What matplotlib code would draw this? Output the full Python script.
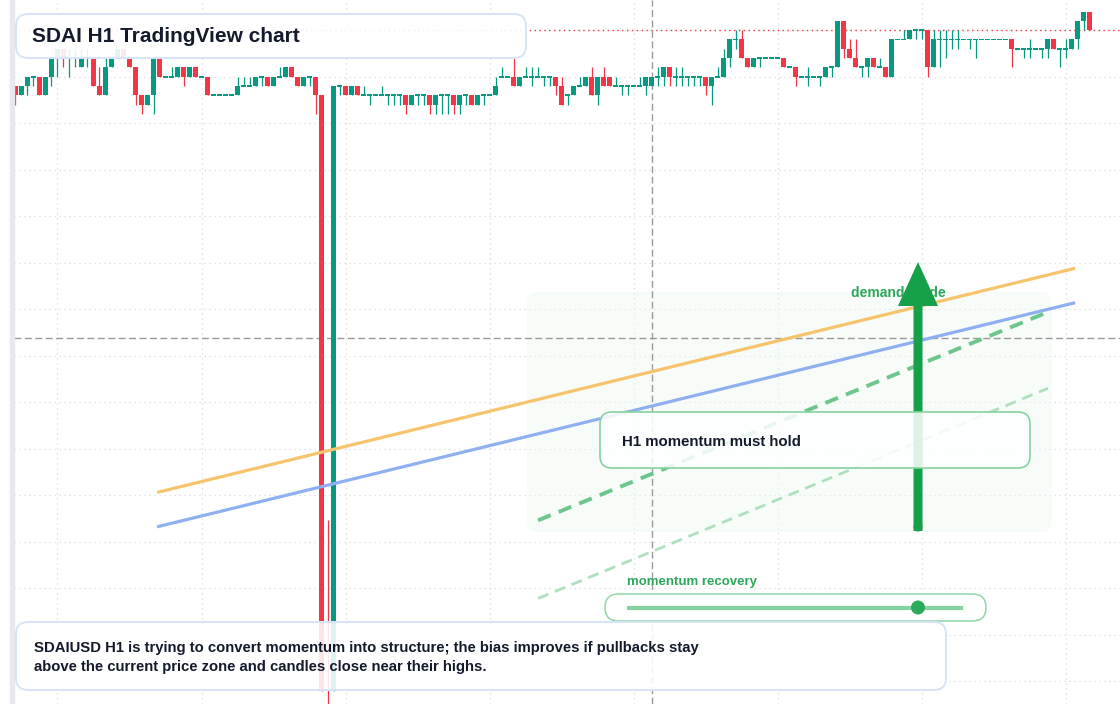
import matplotlib
matplotlib.use("Agg")
import matplotlib.pyplot as plt
from matplotlib.patches import FancyBboxPatch, FancyArrow, Circle
import numpy as np

plt.rcParams['font.family'] = ['Liberation Sans', 'DejaVu Sans']

# ---- SDAIUSD H1 candles, prices in ticks relative to a grid line ----
opens = [
    -1, -2, -1, 0, 0, -2, 0, 2, 3, 2,
    2, 1, 2, 2, -1, -2, 1, 2, 3, 2,
    1, -2, -3, -2, 2, 0, 0, 0, 1, 0,
    1, 0, 0, -2, -2, -2, -2, -2, -1, -1,
    -1, 0, 0, -1, 0, 0, 1, 0, -1, 0,
    0, -2, -70, -66, -1, -1, -2, -1, -2, -2,
    -2, -2, -2, -2, -2, -2, -3, -2, -2, -2,
    -3, -2, -2, -2, -3, -2, -2, -3, -2, -2,
    -2, 0, 0, 0, -1, 0, 0, 0, 0, 0,
    0, -1, -2, -2, -1, -1, 0, -2, 0, 0,
    -1, -1, -1, -1, -1, -1, -1, 0, 0, 1,
    0, 0, 0, 0, 0, 0, -1, 0, 0, 2,
    4, 4, 2, 1, 2, 2, 2, 2, 2, 1,
    1, 0, 0, 0, 0, 0, 1, 1, 6, 3,
    2, 1, 1, 2, 1, 1, 0, 4, 4, 4,
    5, 5, 5, 1, 4, 4, 4, 4, 4, 4,
    4, 4, 4, 4, 4, 4, 4, 3, 3, 3,
    3, 3, 3, 4, 3, 3, 3, 4, 6, 7,
]
highs = [
    -1, -1, 0, 0, 0, 0, 2, 3, 3, 3,
    3, 3, 3, 2, 1, 2, 2, 3, 3, 2,
    1, -2, -2, 2, 2, 0, 1, 1, 1, 1,
    1, 0, 0, -2, -2, -2, -2, 0, 0, 0,
    0, 0, 0, 0, 1, 1, 1, 0, 0, 0,
    0, -2, -47.7, -1, -1, -1, -1, -1, -1, -2,
    -2, -1, -2, -2, -2, -2, -2, -2, -2, -2,
    -2, -2, -2, -2, -2, -2, -2, -2, -2, -2,
    0, 1, 0, 2, 0, 1, 1, 1, 0, 0,
    0, 0, -2, -1, 0, 0, 1, 0, 1, 0,
    0, -1, -1, -1, 0, 0, 0, 1, 1, 1,
    1, 1, 0, 0, 0, 0, 0, 1, 3, 4,
    5, 5, 2, 2, 2, 2, 2, 2, 2, 1,
    1, 0, 1, 0, 0, 1, 1, 6, 6, 4,
    4, 1, 2, 2, 2, 1, 4, 4, 5, 5,
    5, 5, 5, 5, 5, 5, 5, 5, 4, 4,
    4, 4, 4, 4, 4, 4, 4, 3, 3, 4,
    3, 3, 4, 4, 3, 4, 4, 6, 7, 7,
]
lows = [
    -3, -2, -2, -1, -2, -2, -1, 0, 1, 0,
    1, 1, 1, -1, -2, -2, 1, 2, 2, 1,
    -3, -4, -3, -4, 0, 0, 0, 0, -1, 0,
    0, 0, -2, -2, -2, -2, -2, -2, -1, -1,
    -1, -1, -1, -1, 0, 0, 0, -1, -1, -1,
    -4, -66, -76, -66, -2, -2, -2, -2, -2, -3,
    -2, -2, -3, -3, -3, -4, -3, -3, -3, -4,
    -4, -4, -4, -4, -4, -3, -3, -3, -3, -2,
    -2, 0, 0, -1, -1, 0, -1, 0, -1, -1,
    -2, -3, -3, -2, -1, -1, -2, -3, -1, -1,
    -1, -2, -2, -1, -1, -2, -1, -1, -1, -1,
    -1, -1, -1, -1, -1, -2, -3, 0, 0, 1,
    3, 2, 1, 1, 1, 2, 2, 2, 1, 1,
    -1, 0, -1, 0, -1, 0, 0, 1, 2, 2,
    1, 0, 0, 1, 1, 0, 0, 4, 4, 4,
    4, 4, 0, 1, 1, 2, 3, 3, 4, 3,
    2, 4, 4, 4, 4, 4, 1, 3, 2, 2,
    3, 2, 2, 3, 1, 2, 3, 3, 5, 5,
]
closes = [
    -2, -1, 0, 0, -2, 0, 2, 3, 2, 2,
    2, 2, 2, -1, -2, 1, 2, 3, 2, 1,
    -2, -3, -2, 2, 0, 0, 0, 1, 0, 1,
    0, 0, -2, -2, -2, -2, -2, -1, -1, -1,
    0, 0, -1, 0, 0, 1, 0, -1, 0, 0,
    -2, -66, -74, -1, -1, -2, -1, -2, -2, -2,
    -2, -2, -2, -2, -2, -3, -2, -2, -2, -3,
    -2, -2, -2, -3, -2, -2, -3, -2, -2, -2,
    -1, 0, 0, -1, 0, 0, 0, 0, 0, 0,
    -1, -3, -2, -1, -1, 0, -2, 0, -1, -1,
    -1, -1, -1, -1, -1, 0, 0, 0, 1, 0,
    0, 0, 0, 0, 0, -1, 0, 0, 2, 4,
    4, 2, 1, 2, 2, 2, 2, 2, 1, 1,
    0, 0, 0, 0, 0, 1, 1, 6, 3, 2,
    1, 1, 2, 1, 1, 0, 4, 4, 4, 5,
    5, 5, 1, 4, 4, 4, 4, 4, 4, 4,
    4, 4, 4, 4, 4, 4, 3, 3, 3, 3,
    3, 3, 4, 3, 3, 3, 4, 6, 7, 5,
]

# trend guides: (candle index, price) at both ends
orange_guide = [(23.6, -44.7), (176.6, -20.6)]
blue_guide = [(23.6, -48.4), (176.6, -24.3)]
green_guide = [(87.1, -47.7), (172.1, -25.3)]
light_guide = [(87.1, -56.1), (172.1, -33.5)]
crosshair_idx = 106
crosshair_price = -28.1

title = "SDAI H1 TradingView chart"
note = ("SDAIUSD H1 is trying to convert momentum into structure; the bias improves if pullbacks stay\n"
        "above the current price zone and candles close near their highs.")
hold_label = "H1 momentum must hold"
guide_label = "demand guide"
recovery_label = "momentum recovery"

UP = '#089981'
DOWN = '#f23645'

fig = plt.figure(figsize=(11.2, 7.04), dpi=100)
ax = fig.add_axes([0, 0, 1, 1])
ax.set_xlim(-2.583, 184.08)
ax.set_ylim(-67.45, 8.247)
ax.axis('off')

# overlay in pixel coordinates for annotation boxes
ov = fig.add_axes([0, 0, 1, 1])
ov.set_xlim(0, 1120)
ov.set_ylim(704, 0)
ov.axis('off')
ov.patch.set_alpha(0)

x0_idx = (14 - 15.5) / 6

# grid
grid_kw = dict(color='#d8dbe0', lw=0.9, ls=(0, (1, 3)), zorder=0)
for gi in range(7, 184, 24):
    ax.axvline(gi, **grid_kw)
for gl in range(5, -70, -5):
    ax.plot([x0_idx, 184.08], [gl, gl], **grid_kw)

# crosshair
ax.axvline(crosshair_idx, color='#9a9a9a', lw=1, ls=(0, (5, 2.5)), zorder=1)
ax.plot([x0_idx, 184.08], [crosshair_price, crosshair_price], color='#9a9a9a',
        lw=1, ls=(0, (5, 2.5)), zorder=1)

# candles
o = np.array(opens, float)
h = np.array(highs, float)
l = np.array(lows, float)
c = np.array(closes, float)
idx = np.arange(len(o))
cols = np.where(c >= o, UP, DOWN)
ax.vlines(idx, l, h, colors=cols, lw=0.9, zorder=3)
body_lo = np.minimum(o, c)
body_h = np.abs(c - o)
doji = body_h == 0
body_lo = np.where(doji, o - 0.1, body_lo)
body_h = np.where(doji, 0.2, body_h)
ax.bar(idx, body_h, bottom=body_lo, width=0.82, color=cols, linewidth=0, zorder=3)

# last price line
last_col = UP if c[-1] >= o[-1] else DOWN
ax.plot([x0_idx, 184.08], [c[-1], c[-1]], color=last_col, lw=1, ls=(0, (1, 2.5)), zorder=2)

# guide lines
for pts, col, lw, ls in [(orange_guide, '#f6c46c', 2.3, '-'),
                         (blue_guide, '#8fb0f0', 2.3, '-'),
                         (green_guide, '#6cc68d', 2.8, (0, (3.5, 2.2))),
                         (light_guide, '#aee0bf', 2.0, (0, (4, 2.5)))]:
    xs, ys = zip(*pts)
    ax.plot(xs, ys, color=col, lw=lw, ls=ls, zorder=4, solid_capstyle='butt')

# demand zone
zone = FancyBboxPatch((527, 292), 525, 240, boxstyle="round,pad=0,rounding_size=10",
                      fc='#eef9f1', ec='none', alpha=0.38, transform=ov.transData, zorder=0.5)
ax.add_patch(zone)

# left border strip
ov.axvspan(10, 14, color='#e8e9ec', zorder=1)

# title box
ov.add_patch(FancyBboxPatch((16, 14), 510, 44, boxstyle="round,pad=0,rounding_size=12",
                            fc=(1, 1, 1, 0.9), ec='#d6e4f8', lw=1.4, zorder=5))
ov.text(32, 36.5, title, fontsize=15, fontweight='bold', color='#131a2b',
        ha='left', va='center', zorder=6)

# demand guide + arrow
ov.text(851, 293, guide_label, fontsize=10, fontweight='bold', color='#2ea65b',
        ha='left', va='center', zorder=2)
ov.add_patch(FancyArrow(918, 531, 0, -269, width=9, head_width=40, head_length=44,
                        length_includes_head=True, color='#17a04a', lw=0, zorder=3))
ov.add_patch(Circle((918, 527), 4.5, color='#17a04a', lw=0, zorder=3))

# hold box
ov.add_patch(FancyBboxPatch((600, 412), 430, 56, boxstyle="round,pad=0,rounding_size=12",
                            fc=(1, 1, 1, 0.86), ec='#86d3a2', lw=1.2, zorder=4))
ov.text(622, 441.5, hold_label, fontsize=10.8, fontweight='bold', color='#131a2b',
        ha='left', va='center', zorder=5)

# momentum recovery slider
ov.text(627, 582, recovery_label, fontsize=9.5, fontweight='bold', color='#2ea65b',
        ha='left', va='center', zorder=5)
ov.add_patch(FancyBboxPatch((605, 594), 381, 27, boxstyle="round,pad=0,rounding_size=13.5",
                            fc='white', ec='#8fd6a8', lw=1.1, zorder=4))
ov.plot([627, 963], [607.5, 607.5], color='#86d3a2', lw=3, solid_capstyle='butt', zorder=5)
ov.add_patch(Circle((918, 607.5), 7, color='#2baa5b', lw=0, zorder=6))

# bottom note box
ov.add_patch(FancyBboxPatch((16, 622), 930, 68, boxstyle="round,pad=0,rounding_size=12",
                            fc=(1, 1, 1, 0.88), ec='#d6e4f8', lw=1.4, zorder=5))
ov.text(34, 657.5, note, fontsize=10.75, fontweight='bold', color='#131a2b',
        ha='left', va='center', linespacing=1.4, zorder=6)

fig.savefig('out.png', dpi=100)
